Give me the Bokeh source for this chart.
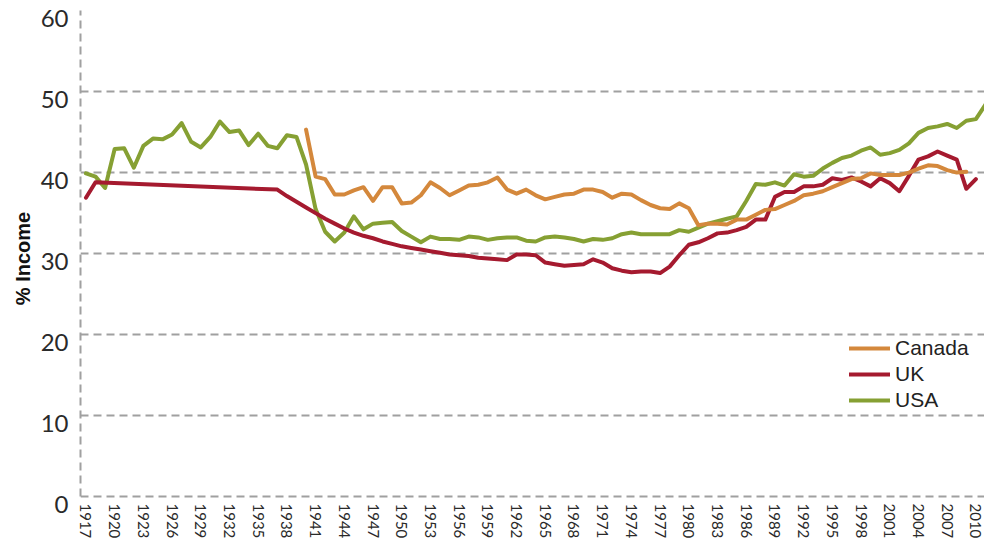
from bokeh.plotting import figure
from bokeh.models import Range1d, FixedTicker, LinearAxis, Legend, LegendItem
from bokeh.embed import file_html
from bokeh.resources import INLINE

# ---------------- data ----------------
years_usa = list(range(1917, 2012))
usa = [39.9, 39.5, 38.1, 42.9, 43.0, 40.6, 43.3, 44.2, 44.1, 44.7,
       46.1, 43.8, 43.1, 44.4, 46.3, 45.0, 45.2, 43.4, 44.8, 43.3,
       43.0, 44.6, 44.4, 41.0, 35.5, 32.7, 31.5, 32.6, 34.6, 33.0,
       33.7, 33.8, 33.9, 32.8, 32.1, 31.4, 32.1, 31.8, 31.8, 31.7,
       32.1, 32.0, 31.7, 31.9, 32.0, 32.0, 31.6, 31.5, 32.0, 32.1,
       32.0, 31.8, 31.5, 31.8, 31.7, 31.9, 32.4, 32.6, 32.4, 32.4,
       32.4, 32.4, 32.9, 32.7, 33.2, 33.7, 34.0, 34.3, 34.6, 36.5,
       38.6, 38.5, 38.8, 38.4, 39.8, 39.5, 39.6, 40.5, 41.2, 41.8,
       42.1, 42.7, 43.1, 42.2, 42.4, 42.8, 43.6, 44.9, 45.5, 45.7,
       46.0, 45.5, 46.4, 46.6, 48.4]

years_canada = list(range(1940, 2010))
canada = [45.3, 39.5, 39.2, 37.3, 37.3, 37.8, 38.2, 36.5, 38.2, 38.2,
          36.2, 36.3, 37.2, 38.8, 38.1, 37.2, 37.8, 38.4, 38.5, 38.8,
          39.4, 37.9, 37.4, 37.9, 37.2, 36.7, 37.0, 37.3, 37.4, 37.9,
          37.9, 37.6, 36.9, 37.4, 37.3, 36.6, 36.0, 35.6, 35.5, 36.2,
          35.6, 33.5, 33.7, 33.7, 33.6, 34.2, 34.2, 34.8, 35.4, 35.5,
          36.0, 36.5, 37.2, 37.4, 37.7, 38.2, 38.7, 39.2, 39.3, 39.9,
          39.7, 39.7, 39.7, 40.0, 40.5, 40.9, 40.8, 40.3, 40.0, 40.1]

years_uk = [1917, 1918] + list(range(1937, 2011))
uk = [36.9, 38.8,
      37.9, 37.1, 36.4, 35.7, 35.0, 34.3, 33.7, 33.1, 32.6, 32.2,
      31.9, 31.5, 31.2, 30.9, 30.7, 30.5, 30.3, 30.1, 29.9, 29.8,
      29.7, 29.5, 29.4, 29.3, 29.2, 29.9, 29.9, 29.8, 28.9, 28.7,
      28.5, 28.6, 28.7, 29.3, 28.9, 28.2, 27.9, 27.7, 27.8, 27.8,
      27.6, 28.4, 29.8, 31.1, 31.4, 31.9, 32.5, 32.6, 32.9, 33.3,
      34.2, 34.2, 37.0, 37.6, 37.6, 38.3, 38.3, 38.5, 39.3, 39.1,
      39.4, 38.9, 38.3, 39.3, 38.7, 37.7, 39.6, 41.6, 42.0, 42.6,
      42.1, 41.6, 38.0, 39.2]

y_ticks = [0, 10, 20, 30, 40, 50, 60]
x_ticks = list(range(1917, 2011, 3))
series_names = ["Canada", "UK", "USA"]
colors = {"Canada": "#D4883C", "UK": "#A51A2F", "USA": "#86A033"}

# ---------------- figure ----------------
X_START, X_END = 1916.43, 2010.9
p = figure(width=984, height=554, output_backend="svg", toolbar_location=None,
           x_range=Range1d(X_START, X_END), y_range=Range1d(-1.2, 60),
           min_border_left=80, min_border_right=0, min_border_top=10,
           min_border_bottom=48)
p.outline_line_color = None
p.background_fill_color = "white"
p.border_fill_color = "white"

grid_col = "#a0a0a0"
dash = "8 5"

# x axis (its line is replaced by the dashed grid line at 0)
xa = p.xaxis[0]
xa.ticker = FixedTicker(ticks=x_ticks)
xa.axis_line_color = None
xa.major_tick_line_color = None
xa.minor_tick_line_color = None
xa.major_tick_out = 0
xa.major_tick_in = 0
xa.major_label_orientation = "vertical"
xa.major_label_standoff = -3
xa.major_label_text_font = "Lato"
xa.major_label_text_font_size = "15px"
xa.major_label_text_color = "#2a2a2a"

# main y axis: dashed line only, from 0 to 60
ya = p.yaxis[0]
ya.ticker = FixedTicker(ticks=[])
ya.bounds = (0, 60)
ya.axis_line_color = grid_col
ya.axis_line_dash = dash
ya.axis_line_width = 2
ya.major_tick_line_color = None
ya.minor_tick_line_color = None
ya.major_label_standoff = 0

# label axis: tick labels sit a little below their grid lines
p.extra_y_ranges = {"lab": Range1d(-0.2, 61.0)}
lab = LinearAxis(y_range_name="lab", ticker=FixedTicker(ticks=y_ticks),
                 axis_line_color=None, major_tick_line_color=None,
                 minor_tick_line_color=None, major_tick_out=0, major_tick_in=0,
                 major_label_standoff=12, major_label_text_font="Lato",
                 major_label_text_font_size="24px",
                 major_label_text_color="#2a2a2a",
                 axis_label="% Income", axis_label_text_font="Liberation Sans",
                 axis_label_text_font_style="bold",
                 axis_label_text_font_size="20px",
                 axis_label_text_color="#111111", axis_label_standoff=4)
p.add_layout(lab, "left")

p.xgrid.grid_line_color = None
p.ygrid[0].ticker = FixedTicker(ticks=y_ticks)
p.ygrid.grid_line_color = grid_col
p.ygrid.grid_line_dash = dash
p.ygrid.grid_line_width = 2

# lines (USA bottom, UK, Canada on top)
r_usa = p.line(years_usa, usa, line_color=colors["USA"], line_width=4,
               line_join="round", line_cap="round")
r_uk = p.line(years_uk, uk, line_color=colors["UK"], line_width=4,
              line_join="round", line_cap="round")
r_can = p.line(years_canada, canada, line_color=colors["Canada"], line_width=4,
               line_join="round", line_cap="round")

legend = Legend(items=[LegendItem(label=series_names[0], renderers=[r_can]),
                       LegendItem(label=series_names[1], renderers=[r_uk]),
                       LegendItem(label=series_names[2], renderers=[r_usa])],
                location=(769, 94), orientation="vertical",
                border_line_color=None, background_fill_alpha=0,
                padding=0, margin=0, spacing=2,
                glyph_width=41, glyph_height=20, label_height=20,
                label_standoff=5, label_text_font="Liberation Sans",
                label_text_font_size="21px", label_text_color="#222222")
p.add_layout(legend)

open("out.html", "w").write(file_html(p, INLINE))
